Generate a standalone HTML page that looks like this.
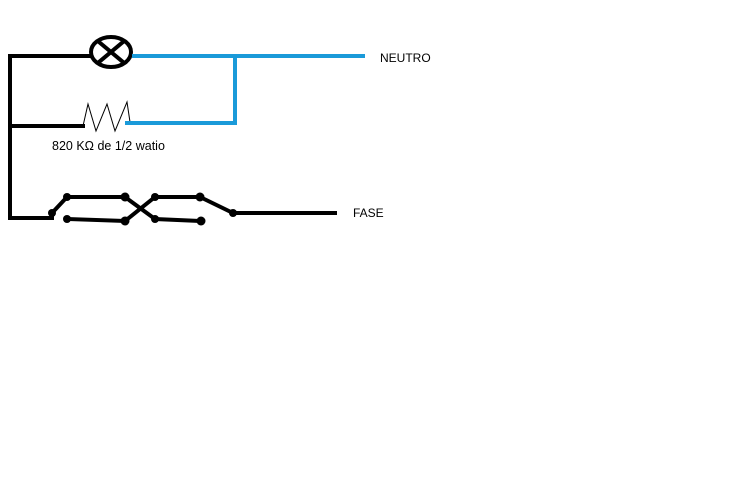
<!DOCTYPE html><html><head><style>body{margin:0;background:#fff}text{font-family:"Liberation Sans",sans-serif;font-size:12px}</style></head><body>
<svg width="731" height="489" xmlns="http://www.w3.org/2000/svg">
<g stroke="#000" stroke-width="4" fill="none" stroke-linecap="square">
<polyline points="90,56 10,56 10,218 52,218"/>
<line x1="10" y1="126" x2="83" y2="126"/>
<ellipse cx="111" cy="52" rx="20" ry="15"/>
<line x1="99" y1="42" x2="123" y2="62"/><line x1="123" y1="42" x2="99" y2="62"/>
<polyline points="52,213 67,197 125,197 155,219 201,221"/>
<polyline points="67,219 125,221 155,197 200,197 233,213 335,213"/>
</g>
<g fill="#000"><circle cx="52" cy="213" r="4"/><circle cx="67" cy="197" r="4"/><circle cx="125" cy="197" r="4.5"/><circle cx="67" cy="219" r="4"/><circle cx="125" cy="221" r="4.5"/><circle cx="155" cy="197" r="4"/><circle cx="200" cy="197" r="4.5"/><circle cx="155" cy="219" r="4"/><circle cx="201" cy="221" r="4.5"/><circle cx="233" cy="213" r="4"/><circle cx="83" cy="126" r="2"/></g>
<polyline points="83,126 88,104 96,131 107,104 115,131 127,102 130,122" stroke="#000" stroke-width="1" fill="none"/>
<g stroke="#1a9ad9" stroke-width="4" fill="none">
<line x1="132" y1="56" x2="365" y2="56"/>
<polyline points="235,54 235,123 125,123"/>
</g>
<text x="380" y="62">NEUTRO</text>
<text x="353" y="217">FASE</text>
<text x="52" y="150" style="font-size:12.5px">820 KΩ de 1/2 watio</text>
</svg></body></html>
